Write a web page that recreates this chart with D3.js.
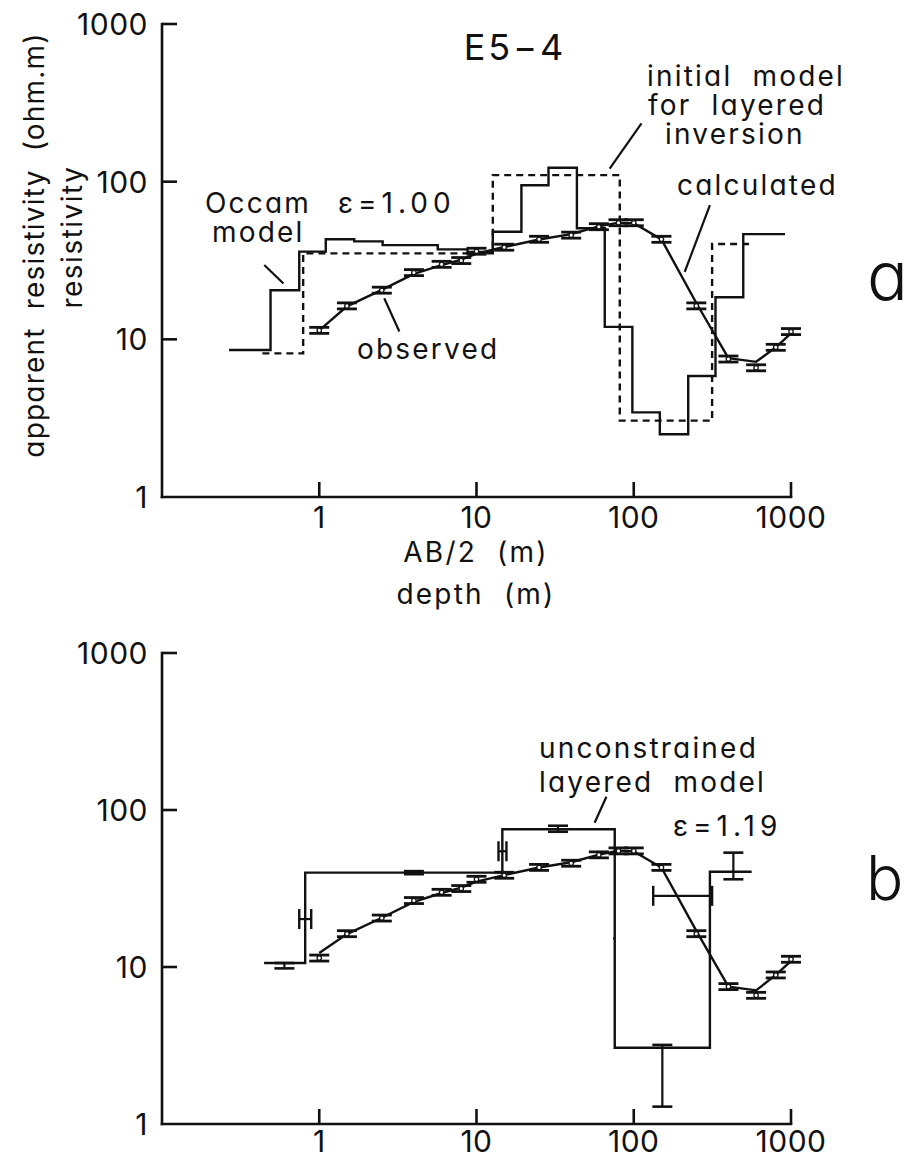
<!DOCTYPE html>
<html><head><meta charset="utf-8">
<script src="https://cdn.jsdelivr.net/npm/d3@7"></script>
<style>
body{margin:0;background:#fff;}
svg text{font-family:Inter,"DejaVu Sans",sans-serif;fill:#111;font-feature-settings:"cv11";white-space:pre;}
</style></head><body>
<svg id="c" width="909" height="1158"></svg>
<script>
// ---------- data ----------
const abHalf = [1, 1.5, 2.5, 4, 6, 8, 10, 15, 25, 40, 60, 80, 100, 150, 250, 400, 600, 800, 1000];
const rhoObs = [11.4, 16.3, 20.5, 26.5, 29.9, 31.6, 36.2, 38.4, 43.1, 45.8, 51.8, 54.9, 54.9, 43.1, 16.3, 7.5, 6.6, 8.9, 11.2];
const obsErr = 0.045;
const rhoCalcA = [11.4, 16.2, 20.6, 26.0, 29.6, 32.0, 35.0, 38.5, 43.0, 46.5, 52.0, 55.0, 54.5, 43.0, 17.0, 7.6, 7.2, 8.9, 10.9];
const rhoCalcB = [12.3, 16.2, 20.6, 26.0, 29.6, 32.0, 35.0, 38.5, 43.0, 46.5, 52.0, 55.0, 54.5, 43.0, 17.0, 7.5, 7.1, 8.9, 10.9];

const occamDepth = [0.267, 0.49, 0.746, 1.10, 1.67, 2.53, 5.67, 8.76, 12.7, 19.3, 28.7, 43.5, 65.4, 98, 146.5, 222, 331, 497, 916];
const occamRho = [8.56, 20.5, 36, 43.1, 41.8, 39.6, 37.2, 35.8, 48.1, 95, 122.5, 50.6, 12.0, 3.44, 2.50, 5.85, 18.5, 46.5];

const initDepth = [0.435, 0.79, 12.7, 81.5, 315, 576];
const initRho = [8.15, 35.1, 110, 3.05, 40.2];

const layerDepth = [0.446, 0.814, 14.6, 75.7, 305, 562];
const layerRho = [10.6, 39.9, 75.4, 3.06, 40.4];
const layerRhoLo = [9.8, 39.0, 72.7, 1.29, 36.2];
const layerRhoHi = [10.6, 40.8, 79.4, 3.19, 53.5];
const layerBarDepth = [0.6, 4.0, 33, 152, 430];
const ifaceLo = [0.746, 13.8, 74.0, 133];
const ifaceHi = [0.889, 15.5, 75.7, 315];
const ifaceRho = [20.2, 54.6, 15.2, 28.4];

const xTicks = [1, 10, 100, 1000];
const yTicks = [1, 10, 100, 1000];

// ---------- layout ----------
const svg = d3.select("#c");
const INK = "#111";
const x = d3.scaleLog().domain([0.1, 1000]).range([162, 791]);
const yA = d3.scaleLog().domain([1, 1000]).range([497, 24]);
const yB = d3.scaleLog().domain([1, 1000]).range([1124, 653]);

function axes(y, labelBase) {
  const g = svg.append("g");
  const tickLen = 15;
  g.append("line").attr("x1", x(0.1)).attr("x2", x(0.1)).attr("y1", y(1000)).attr("y2", y(1))
    .attr("stroke", INK).attr("stroke-width", 2.6).attr("stroke-linecap", "square");
  g.append("line").attr("x1", x(0.1)).attr("x2", x(1000)).attr("y1", y(1)).attr("y2", y(1))
    .attr("stroke", INK).attr("stroke-width", 2.6).attr("stroke-linecap", "square");
  yTicks.filter(t => t > 1).forEach(t => {
    g.append("line").attr("x1", x(0.1)).attr("x2", x(0.1) + tickLen).attr("y1", y(t)).attr("y2", y(t))
      .attr("stroke", INK).attr("stroke-width", 2.6);
  });
  xTicks.forEach(t => {
    g.append("line").attr("x1", x(t)).attr("x2", x(t)).attr("y1", y(1)).attr("y2", y(1) - tickLen)
      .attr("stroke", INK).attr("stroke-width", 2.6);
  });
  g.selectAll(".yl").data(yTicks).enter().append("text")
    .attr("x", 148).attr("y", d => y(d) + 11).attr("text-anchor", "end")
    .attr("font-size", 30).attr("letter-spacing", 0.5).text(d => d);
  g.selectAll(".xl").data(xTicks).enter().append("text")
    .attr("x", d => x(d)).attr("y", y(1) + labelBase).attr("text-anchor", "middle")
    .attr("font-size", 30).attr("letter-spacing", 0.5).text(d => d);
}

function stepPath(depth, rho, y) {
  const pts = rho.map((r, i) => [depth[i], r]);
  pts.push([depth[depth.length - 1], rho[rho.length - 1]]);
  return d3.line().x(d => x(d[0])).y(d => y(d[1])).curve(d3.curveStepAfter)(pts);
}

function observed(y, calc) {
  const g = svg.append("g");
  g.append("path").attr("d", d3.line().x((d, i) => x(abHalf[i])).y(d => y(d))(calc))
    .attr("fill", "none").attr("stroke", INK).attr("stroke-width", 2.4);
  abHalf.forEach((a, i) => {
    const cx = x(a), r = rhoObs[i];
    const y1 = y(r * (1 + obsErr)), y2 = y(r / (1 + obsErr));
    g.append("line").attr("x1", cx).attr("x2", cx).attr("y1", y1).attr("y2", y2).attr("stroke", INK).attr("stroke-width", 2);
    [y1, y2].forEach(yy => g.append("line").attr("x1", cx - 10).attr("x2", cx + 10).attr("y1", yy).attr("y2", yy)
      .attr("stroke", INK).attr("stroke-width", 2.8));
    g.append("circle").attr("cx", cx).attr("cy", y(r)).attr("r", 2.2).attr("fill", "#fff").attr("stroke", INK).attr("stroke-width", 1.3);
  });
}

function leader(p1, p2, y) {
  svg.append("line").attr("x1", x(p1[0])).attr("y1", y(p1[1])).attr("x2", x(p2[0])).attr("y2", y(p2[1]))
    .attr("stroke", INK).attr("stroke-width", 2.2);
}

// multi-line label in one text element
function label(tx, ty, lines, opts) {
  opts = opts || {};
  const size = opts.size || 28, lh = opts.lh || 29;
  const t = svg.append("text").attr("x", tx).attr("y", ty).attr("font-size", size)
    .attr("letter-spacing", opts.ls !== undefined ? opts.ls : 2.2);
  if (opts.anchor) t.attr("text-anchor", opts.anchor);
  if (opts.weight) t.attr("font-weight", opts.weight);
  if (opts.transform) t.attr("transform", opts.transform);
  [].concat(lines).forEach((s, i) => {
    const dx = (opts.dx && opts.dx[i]) || 0;
    t.append("tspan").attr("x", tx + dx).attr("dy", i === 0 ? 0 : lh).text(s);
  });
  return t;
}

// ---------- panel a ----------
axes(yA, 31);
svg.append("path").attr("d", stepPath(initDepth, initRho, yA)).attr("fill", "none")
  .attr("stroke", INK).attr("stroke-width", 2.4).attr("stroke-dasharray", "7,5");
svg.append("path").attr("d", stepPath(occamDepth, occamRho, yA)).attr("fill", "none")
  .attr("stroke", INK).attr("stroke-width", 2.4);
observed(yA, rhoCalcA);

leader([0.447, 29.6], [0.592, 22.6], yA);
leader([112, 234], [70.3, 121], yA);
leader([305, 71], [211, 26.8], yA);
leader([2.59, 18.2], [3.23, 11.2], yA);

label(515, 60, "E5\u22124", {size: 36, anchor: "middle", ls: 3});
label(647, 86, ["initial  model", "for  layered", "inversion"], {dx: [0, 1, 18]});
label(205, 213, ["Occam", "model"], {dx: [0, 7]});
label(338, 213, "\u03b5=1.00", {ls: 5});
label(677, 195, "calculated");
label(357, 359, "observed");
label(476, 562, "AB/2  (m)", {anchor: "middle"});
label(476, 604, "depth  (m)", {anchor: "middle"});
label(867, 300, "a", {size: 68, weight: 300, ls: 0});
label(0, 0, "apparent  resistivity  (ohm.m)", {anchor: "middle", ls: 1.2, transform: "translate(44,245) rotate(-90)"});
label(0, 0, "resistivity", {anchor: "middle", ls: 1.5, transform: "translate(82,237) rotate(-90)"});

// ---------- panel b ----------
axes(yB, 28);
svg.append("path").attr("d", stepPath(layerDepth, layerRho, yB)).attr("fill", "none")
  .attr("stroke", INK).attr("stroke-width", 2.4);
layerRho.forEach((r, i) => {
  const cx = x(layerBarDepth[i]);
  const y1 = yB(layerRhoHi[i]), y2 = yB(layerRhoLo[i]);
  svg.append("line").attr("x1", cx).attr("x2", cx).attr("y1", y1).attr("y2", y2).attr("stroke", INK).attr("stroke-width", 2.2);
  [y1, y2].forEach(yy => svg.append("line").attr("x1", cx - 10).attr("x2", cx + 10).attr("y1", yy).attr("y2", yy)
    .attr("stroke", INK).attr("stroke-width", 2.6));
});
ifaceRho.forEach((r, i) => {
  const cy = yB(r), x1 = x(ifaceLo[i]), x2 = x(ifaceHi[i]);
  svg.append("line").attr("x1", x1).attr("x2", x2).attr("y1", cy).attr("y2", cy).attr("stroke", INK).attr("stroke-width", 2.2);
  if (x2 - x1 > 5) {
    [x1, x2].forEach(xx => svg.append("line").attr("x1", xx).attr("x2", xx).attr("y1", cy - 10).attr("y2", cy + 10)
      .attr("stroke", INK).attr("stroke-width", 2.4));
  }
});
observed(yB, rhoCalcB);
leader([67, 121.5], [56.4, 83], yB);

label(539, 758, ["unconstrained", "layered  model"], {lh: 34});
label(673, 836, "\u03b5=1.19", {ls: 5});
label(866, 900, "b", {size: 62, weight: 300, ls: 0});
</script>
</body></html>
